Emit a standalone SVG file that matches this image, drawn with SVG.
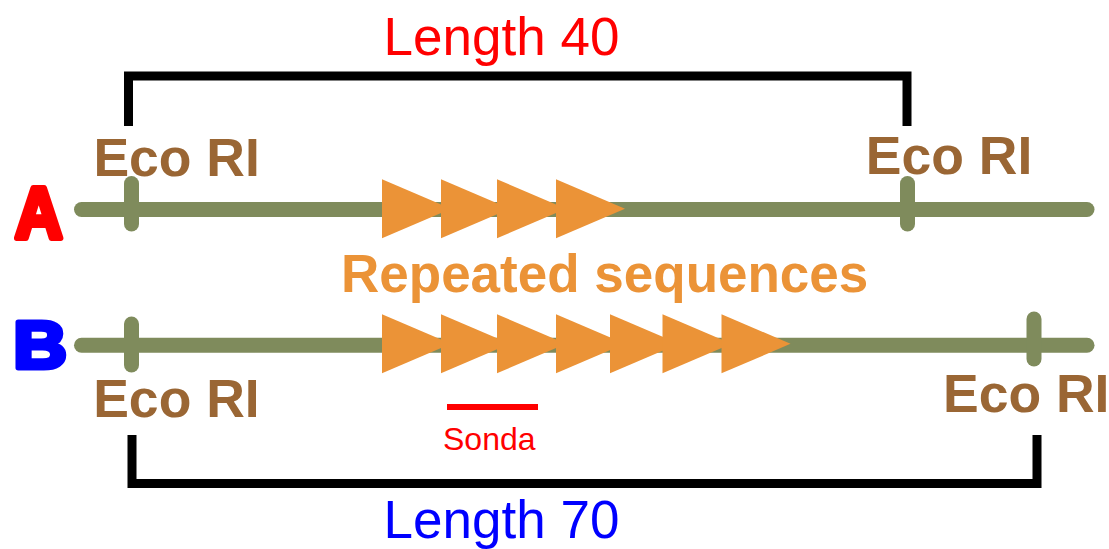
<svg xmlns="http://www.w3.org/2000/svg" width="1109" height="549" viewBox="0 0 1109 549">
<style>
.dna{stroke:#7f8b5c;stroke-width:15;stroke-linecap:round;fill:none}
.tri{fill:#eb9337}
.eco{font-family:"Liberation Sans",Arial,sans-serif;font-weight:bold;font-size:53.5px;fill:#9a6634}
.len{font-family:"Liberation Sans",Arial,sans-serif;font-size:53px}
.brk{stroke:#000;stroke-width:9;fill:none;stroke-linejoin:miter;stroke-linecap:butt}
.big{font-family:"Liberation Sans",Arial,sans-serif;font-weight:bold;text-anchor:middle;stroke-linejoin:round}
</style>
<defs>
<polygon id="tr" points="0,-29.5 69,0 0,29.5"/>
</defs>
<g id="connectors">
<path class="brk" d="M128.5,126 V76 H907 V126"/>
<path class="brk" d="M132,435 V483.5 H1037 V435"/>
</g>
<g id="label-length40"><text class="len" x="383.6" y="55" fill="#ff0000">Length 40</text></g>
<g id="label-length70"><text class="len" x="383.6" y="537.5" fill="#0000ff">Length 70</text></g>
<g id="label-A"><text class="big" transform="translate(38.7,237.7) scale(0.9,1)" font-size="73" fill="#ff0000" stroke="#ff0000" stroke-width="6">A</text></g>
<g id="label-B"><text class="big" transform="translate(40,367.5) scale(1.1,1)" font-size="67.5" fill="#0000ff" stroke="#0000ff" stroke-width="5">B</text></g>
<g id="dnaA">
<line class="dna" x1="81.5" y1="209.5" x2="1087" y2="209.5"/>
<line class="dna" x1="131.5" y1="183.5" x2="131.5" y2="224"/>
<line class="dna" x1="907.5" y1="183.5" x2="907.5" y2="224"/>
<g class="tri">
<use href="#tr" x="382" y="208.7"/>
<use href="#tr" x="441" y="208.7"/>
<use href="#tr" x="497" y="208.7"/>
<use href="#tr" x="556" y="208.7"/>
</g>
</g>
<g id="dnaB">
<line class="dna" x1="81.5" y1="345.2" x2="1087" y2="345.2"/>
<line class="dna" x1="131.5" y1="324" x2="131.5" y2="365"/>
<line class="dna" x1="1034" y1="319" x2="1034" y2="359"/>
<g class="tri">
<use href="#tr" x="382" y="343.8"/>
<use href="#tr" x="441" y="343.8"/>
<use href="#tr" x="497" y="343.8"/>
<use href="#tr" x="556" y="343.8"/>
<use href="#tr" x="610" y="343.8"/>
<use href="#tr" x="662.5" y="343.8"/>
<use href="#tr" x="721.5" y="343.8"/>
</g>
</g>
<g id="eco-A-left"><text class="eco" x="93.4" y="175.5">Eco RI</text></g>
<g id="eco-A-right"><text class="eco" x="865.8" y="173.5">Eco RI</text></g>
<g id="eco-B-left"><text class="eco" x="93.2" y="417.3">Eco RI</text></g>
<g id="eco-B-right"><text class="eco" x="943" y="412">Eco RI</text></g>
<g id="label-repeated"><text x="341" y="291.5" font-family="Liberation Sans, Arial, sans-serif" font-weight="bold" font-size="53px" fill="#eb9337">Repeated sequences</text></g>
<g id="sonda">
<line x1="447" y1="407" x2="538" y2="407" stroke="#ff0000" stroke-width="6"/>
<text x="443" y="450" font-family="Liberation Sans, Arial, sans-serif" font-size="32px" fill="#ff0000">Sonda</text>
</g>
</svg>
